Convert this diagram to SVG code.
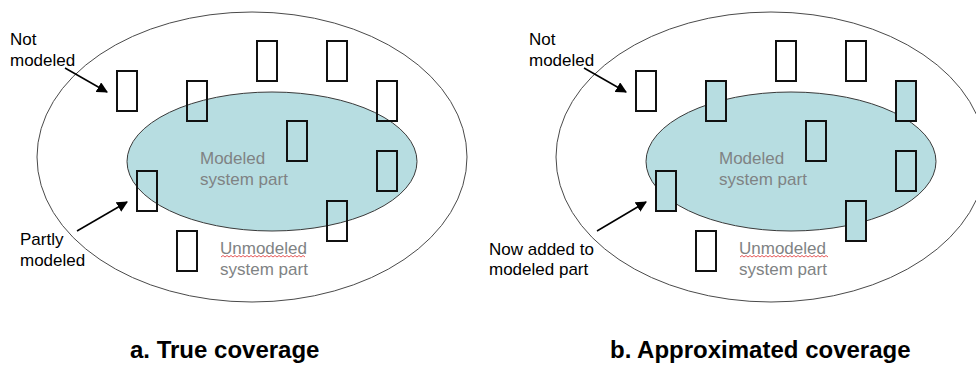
<svg xmlns="http://www.w3.org/2000/svg" width="976" height="365" viewBox="0 0 976 365">
  <style>
    .outer { fill: none; stroke: #4a4a4a; stroke-width: 1; }
    .inner { fill: #b7dde1; stroke: #3a3a3a; stroke-width: 1; }
    .box { fill: none; stroke: #111; stroke-width: 2; }
    .box.in { fill: #b7dde1; }
    .note { font-family: "Liberation Sans", Arial, sans-serif; font-size: 17px; fill: #000; }
    .area { font-family: "Liberation Sans", Arial, sans-serif; font-size: 17px; fill: #7f8384; }
    .title { font-family: "Liberation Sans", Arial, sans-serif; font-size: 24px; font-weight: bold; fill: #000; }
    .conn { stroke: #000; stroke-width: 1.5; fill: none; marker-end: url(#head); }
    .squiggle { fill: none; stroke: #e03030; stroke-width: 0.8; }
  </style>
  <defs>
    <marker id="head" viewBox="0 0 10 10" refX="9" refY="5" markerWidth="11" markerHeight="11" markerUnits="userSpaceOnUse" orient="auto">
      <path d="M0,0 L10,5 L0,10 z" fill="#000"/>
    </marker>
  </defs>

  <!-- Panel a: true coverage -->
  <g id="a-system">
    <ellipse class="outer" cx="252" cy="157" rx="215" ry="145"/>
  </g>
  <g id="a-modeled">
    <ellipse class="inner" cx="272" cy="161.5" rx="145" ry="69.5"/>
    <text class="area" x="200" y="164">Modeled</text>
    <text class="area" x="200" y="185">system part</text>
  </g>
  <g id="a-unmodeled">
    <text class="area" x="220" y="254">Unmodeled</text>
    <text class="area" x="220" y="275">system part</text>
    <path class="squiggle" d="M221,257 l2,-1.5 l2,1.5 l2,-1.5 l2,1.5 l2,-1.5 l2,1.5 l2,-1.5 l2,1.5 l2,-1.5 l2,1.5 l2,-1.5 l2,1.5 l2,-1.5 l2,1.5 l2,-1.5 l2,1.5 l2,-1.5 l2,1.5 l2,-1.5 l2,1.5 l2,-1.5 l2,1.5 l2,-1.5 l2,1.5 l2,-1.5 l2,1.5 l2,-1.5 l2,1.5 l2,-1.5 l2,1.5 l2,-1.5 l2,1.5 l2,-1.5 l2,1.5 l2,-1.5 l2,1.5 l2,-1.5 l2,1.5 l2,-1.5 l2,1.5 l2,-1.5 l2,1.5"/>
  </g>
  <g id="a-parts">
    <rect class="box" x="117" y="71" width="20" height="40"/>
    <rect class="box" x="187" y="81" width="20" height="40"/>
    <rect class="box" x="257" y="41" width="20" height="40"/>
    <rect class="box" x="327" y="41" width="20" height="40"/>
    <rect class="box" x="377" y="81" width="20" height="40"/>
    <rect class="box" x="287" y="121" width="20" height="40"/>
    <rect class="box" x="377" y="151" width="20" height="40"/>
    <rect class="box" x="137" y="171" width="20" height="40"/>
    <rect class="box" x="327" y="201" width="20" height="40"/>
    <rect class="box" x="177" y="231" width="20" height="40"/>
  </g>
  <g id="a-label-not">
    <text class="note" x="10" y="45">Not</text>
    <text class="note" x="10" y="66">modeled</text>
  </g>
  <g id="a-label-partly">
    <text class="note" x="20" y="245">Partly</text>
    <text class="note" x="20" y="266">modeled</text>
  </g>
  <g id="a-title">
    <text class="title" x="130" y="358">a. True coverage</text>
  </g>

  <!-- Panel b: approximated coverage -->
  <g id="b-system">
    <ellipse class="outer" cx="771" cy="157" rx="215" ry="145"/>
  </g>
  <g id="b-modeled">
    <ellipse class="inner" cx="791" cy="161.5" rx="145" ry="69.5"/>
    <text class="area" x="719" y="164">Modeled</text>
    <text class="area" x="719" y="185">system part</text>
  </g>
  <g id="b-unmodeled">
    <text class="area" x="739" y="254">Unmodeled</text>
    <text class="area" x="739" y="275">system part</text>
    <path class="squiggle" d="M740,257 l2,-1.5 l2,1.5 l2,-1.5 l2,1.5 l2,-1.5 l2,1.5 l2,-1.5 l2,1.5 l2,-1.5 l2,1.5 l2,-1.5 l2,1.5 l2,-1.5 l2,1.5 l2,-1.5 l2,1.5 l2,-1.5 l2,1.5 l2,-1.5 l2,1.5 l2,-1.5 l2,1.5 l2,-1.5 l2,1.5 l2,-1.5 l2,1.5 l2,-1.5 l2,1.5 l2,-1.5 l2,1.5 l2,-1.5 l2,1.5 l2,-1.5 l2,1.5 l2,-1.5 l2,1.5 l2,-1.5 l2,1.5 l2,-1.5 l2,1.5 l2,-1.5 l2,1.5 l2,-1.5 l2,1.5"/>
  </g>
  <g id="b-parts">
    <rect class="box" x="636" y="71" width="20" height="40"/>
    <rect class="box in" x="706" y="81" width="20" height="40"/>
    <rect class="box" x="776" y="41" width="20" height="40"/>
    <rect class="box" x="846" y="41" width="20" height="40"/>
    <rect class="box in" x="896" y="81" width="20" height="40"/>
    <rect class="box in" x="806" y="121" width="20" height="40"/>
    <rect class="box in" x="896" y="151" width="20" height="40"/>
    <rect class="box in" x="656" y="171" width="20" height="40"/>
    <rect class="box in" x="846" y="201" width="20" height="40"/>
    <rect class="box" x="696" y="231" width="20" height="40"/>
  </g>
  <g id="b-label-not">
    <text class="note" x="529" y="45">Not</text>
    <text class="note" x="529" y="66">modeled</text>
  </g>
  <g id="b-label-added">
    <text class="note" x="489" y="255">Now added to</text>
    <text class="note" x="489" y="275">modeled part</text>
  </g>
  <g id="b-title">
    <text class="title" x="610" y="358">b. Approximated coverage</text>
  </g>

  <!-- Pointer arrows -->
  <g id="connectors">
    <line class="conn" x1="65" y1="68" x2="107" y2="92"/>
    <line class="conn" x1="77" y1="231" x2="127" y2="202"/>
    <line class="conn" x1="584" y1="68" x2="626" y2="92"/>
    <line class="conn" x1="597" y1="231" x2="646" y2="202"/>
  </g>
</svg>
